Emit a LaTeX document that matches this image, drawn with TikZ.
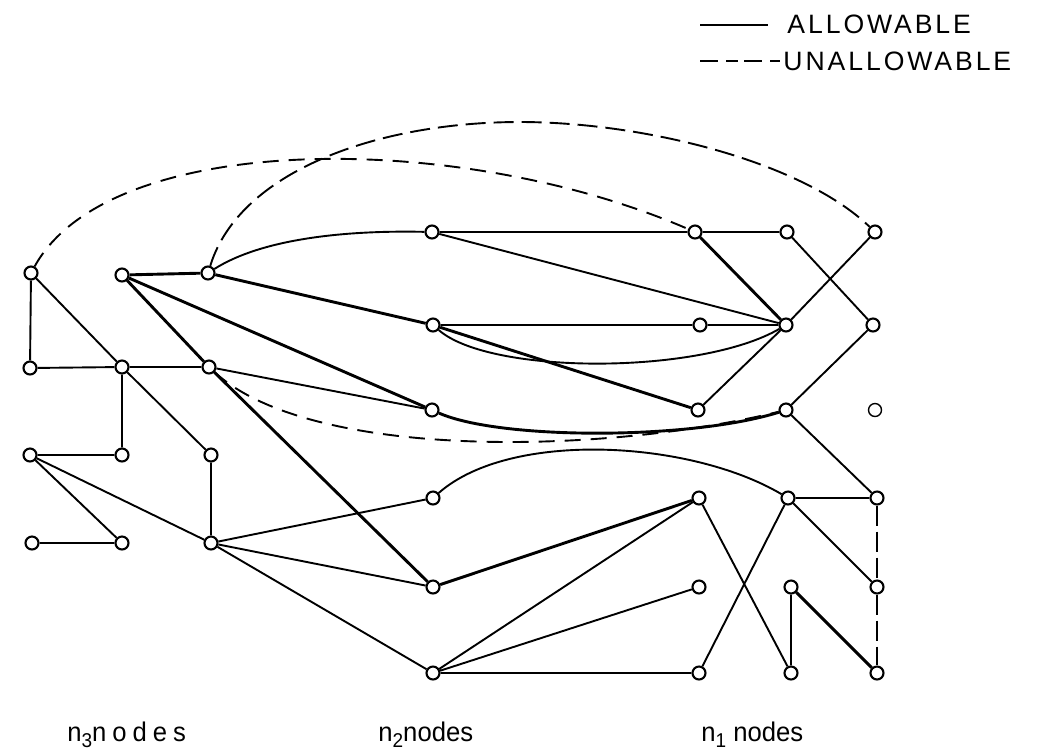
\documentclass[tikz,border=0pt]{standalone}
\usepackage{fontspec}
\setmainfont{Liberation Sans}
\newfontfamily\legfont[LetterSpace=11]{Liberation Sans}
\newfontfamily\labfont[FakeStretch=0.95]{Liberation Sans}
\newcommand{\lsub}[1]{\raisebox{-0.25em}{\fontsize{10}{10}\selectfont #1}}
\begin{document}
\begin{tikzpicture}[x=0.5pt,y=-0.5pt,
  vtx/.style={circle,draw,fill=white,minimum size=6.5pt,inner sep=0pt,line width=1.05pt},
  ln/.style={line width=0.95pt},
  thk/.style={line width=1.45pt},
  dsh/.style={line width=0.95pt,dash pattern=on 8pt off 5pt},
  dshlong/.style={line width=0.95pt,dash pattern=on 10pt off 4pt},
  dshv/.style={line width=0.95pt,dash pattern=on 10pt off 3pt},
  leg/.style={inner sep=0pt,anchor=west,font=\legfont\fontsize{13.3}{15}\selectfont},
  lab/.style={inner sep=0pt,anchor=base west,font=\labfont\fontsize{13.5}{16}\selectfont}]
\useasboundingbox (0,0) rectangle (1037,752);
% nodes
\node[vtx] (A1) at (31,273) {};
\node[vtx] (A2) at (122,275) {};
\node[vtx] (A3) at (208,273) {};
\node[vtx] (B1) at (30,368) {};
\node[vtx] (B2) at (122,367) {};
\node[vtx] (B3) at (209,367) {};
\node[vtx] (C1) at (30,455) {};
\node[vtx] (C2) at (122,455) {};
\node[vtx] (C3) at (211,455) {};
\node[vtx] (D1) at (32,543) {};
\node[vtx] (D2) at (122,543) {};
\node[vtx] (D3) at (211,543) {};
\node[vtx] (M1) at (432,232) {};
\node[vtx] (M2) at (433,325) {};
\node[vtx] (M3) at (432,410) {};
\node[vtx] (M4) at (433,498) {};
\node[vtx] (M5) at (433,587) {};
\node[vtx] (M6) at (433,673) {};
\node[vtx] (R1) at (695,232) {};
\node[vtx] (R2) at (700,325) {};
\node[vtx] (R3) at (698,410) {};
\node[vtx] (R4) at (699,498) {};
\node[vtx] (R5) at (699,587) {};
\node[vtx] (R6) at (699,673) {};
\node[vtx] (S1) at (787,232) {};
\node[vtx] (S2) at (786,325) {};
\node[vtx] (S3) at (786,410) {};
\node[vtx] (S4) at (788,498) {};
\node[vtx] (S5) at (791,587) {};
\node[vtx] (S6) at (791,673) {};
\node[vtx] (T1) at (875,232) {};
\node[vtx] (T2) at (873,325) {};
\node[vtx,line width=0.7pt] (T3) at (875,410) {};
\node[vtx] (T4) at (877,498) {};
\node[vtx] (T5) at (877,587) {};
\node[vtx] (T6) at (877,673) {};
% straight edges
\draw[ln] (A1)--(B1) (A1)--(B2) (B2)--(C3) (B1)--(B2) (B2)--(B3) (B2)--(C2)
  (C1)--(C2) (C1)--(D2) (C1)--(D3) (D1)--(D2) (C3)--(D3);
\draw[thk] (A2)--(A3) (A2)--(M3) (A2)--(B3) (B3)--(M5) (A3)--(M2) (M2)--(R3);
\draw[ln] (B3)--(M3) (M1)--(R1) (M1)--(S2) (R1)--(S1) (S1)--(T2) (T1)--(S2)
  (M2)--(R2) (R2)--(S2) (R3)--(S2) (T2)--(S3) (S3)--(T4);
\draw[thk] (R1)--(S2);
\draw[ln] (D3)--(M4) (D3)--(M5) (D3)--(M6) (M6)--(R4) (M6)--(R5) (M6)--(R6)
  (R4)--(S6) (R6)--(S4) (S4)--(T4) (S4)--(T5) (S5)--(S6);
\draw[thk] (M5)--(R4) (S5)--(T6);
\draw[dshv] (T4)--(T5) (T5)--(T6);
% curved edges
\draw[ln] (A3) .. controls (260,240) and (340,230) .. (M1);
\draw[ln] (M2) .. controls (490,375) and (700,375) .. (S2);
\draw[thk] (M3) .. controls (500,440) and (690,440) .. (S3);
\draw[ln] (M4) .. controls (510,430) and (690,440) .. (S4);
\draw[dsh] (B3) .. controls (310,460) and (600,455) .. (S3);
\draw[dsh] (A1) .. controls (110,130) and (460,130) .. (R1);
\coordinate (pk) at (520,122);
\draw[dshlong] (A3) .. controls (240,170) and (380,122) .. (pk)
  .. controls (640,122) and (800,160) .. (T1);
% legend
\coordinate (La) at (700,25);
\coordinate (Lb) at (768,25);
\coordinate (Ua) at (700,61);
\coordinate (Ub) at (780,61);
\draw[ln] (La)--(Lb);
\draw[line width=0.95pt,dash pattern=on 9pt off 4pt on 6pt off 3pt] (Ua)--(Ub);
\node[leg] (allow) at (787,24) {ALLOWABLE};
\node[leg] (unallow) at (783,61) {UNALLOWABLE};
% labels
\node[lab] (n3) at (67,741) {n\lsub{3}{\addfontfeature{LetterSpace=22}nodes}};
\node[lab] (n2) at (378,741) {n\lsub{2}nodes};
\node[lab] (n1) at (701,741) {n\lsub{1} nodes};
\end{tikzpicture}
\end{document}
